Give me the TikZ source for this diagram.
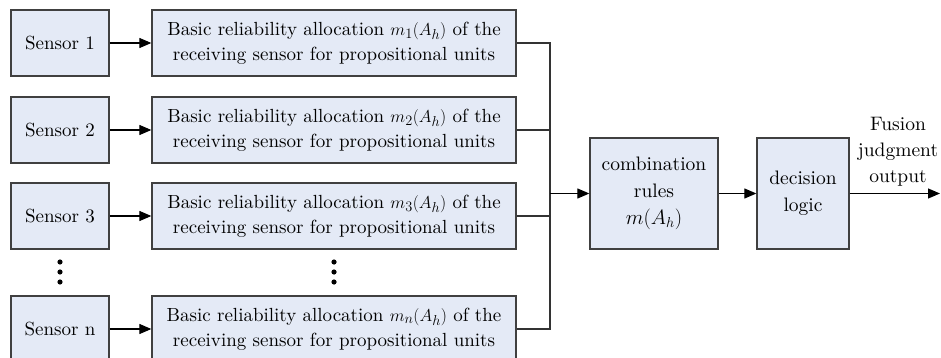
\documentclass[tikz,border=0pt]{standalone}
\usepackage{amsmath}
\usepackage{fontspec}
\setmainfont{lmroman10-regular.otf}[BoldFont=lmroman10-bold.otf,ItalicFont=lmroman10-italic.otf]
\usetikzlibrary{arrows.meta}

\definecolor{boxfill}{RGB}{228,234,246}
\definecolor{boxline}{RGB}{64,64,64}

\begin{document}
\begin{tikzpicture}[x=1pt,y=-1pt,
  sensorbox/.style={draw=boxline,line width=1.3pt,fill=boxfill,minimum width=98pt,minimum height=66pt,inner sep=0pt},
  allocbox/.style={draw=boxline,line width=1.3pt,fill=boxfill,minimum width=364pt,minimum height=66pt,inner sep=0pt,align=center},
  arr/.style={-{Triangle[length=12pt,width=10pt]},line width=1.1pt},
  wire/.style={line width=1.1pt,draw=black!80}]
\tikzstyle{every node}+=[font=\fontsize{19}{25}\selectfont]
\useasboundingbox (0,0) rectangle (941,358);

% sensors
\node [sensorbox] (s1) at (60,43) {Sensor 1};
\node [sensorbox] (s2) at (60,130) {Sensor 2};
\node [sensorbox] (s3) at (60,216) {Sensor 3};
\node [sensorbox] (sn) at (60,329) {Sensor n};

% basic reliability allocation
\node [allocbox] (b1) at (334,43) {Basic reliability allocation $m_1(A_h)$ of the\\receiving sensor for propositional units};
\node [allocbox] (b2) at (334,130) {Basic reliability allocation $m_2(A_h)$ of the\\receiving sensor for propositional units};
\node [allocbox] (b3) at (334,216) {Basic reliability allocation $m_3(A_h)$ of the\\receiving sensor for propositional units};
\node [allocbox] (bn) at (334,329) {Basic reliability allocation $m_n(A_h)$ of the\\receiving sensor for propositional units};

% dots
\foreach \y in {262,272,282} {
  \fill (60,\y) circle (2.6);
  \fill (334,\y) circle (2.6);
}

\node [sensorbox,minimum width=128pt,minimum height=111pt,align=center,font=\fontsize{19.5}{27}\selectfont] (comb) at (654,193.5) {combination\\rules\\$m(A_h)$};
\node [sensorbox,minimum width=92pt,minimum height=111pt,align=center,font=\fontsize{19.5}{27}\selectfont] (dec) at (803,193.5) {decision\\logic};

\coordinate (bus) at (550,193.5);
\coordinate (out) at (940,193.5);

\draw [arr] (s1) -- (b1);
\draw [arr] (s2) -- (b2);
\draw [arr] (s3) -- (b3);
\draw [arr] (sn) -- (bn);

\draw [wire] (b1.east) -| (bus);
\draw [wire] (bn.east) -| (bus);
\draw [wire] (b2.east) -- (b2.east -| bus);
\draw [wire] (b3.east) -- (b3.east -| bus);

\draw [arr] (bus) -- (comb);
\draw [arr] (comb) -- (dec);
\draw [arr] (dec) -- (out);
\node [align=center,font=\fontsize{19.5}{26}\selectfont] (fusion) at (898,152) {Fusion\\judgment\\output};
\end{tikzpicture}
\end{document}
